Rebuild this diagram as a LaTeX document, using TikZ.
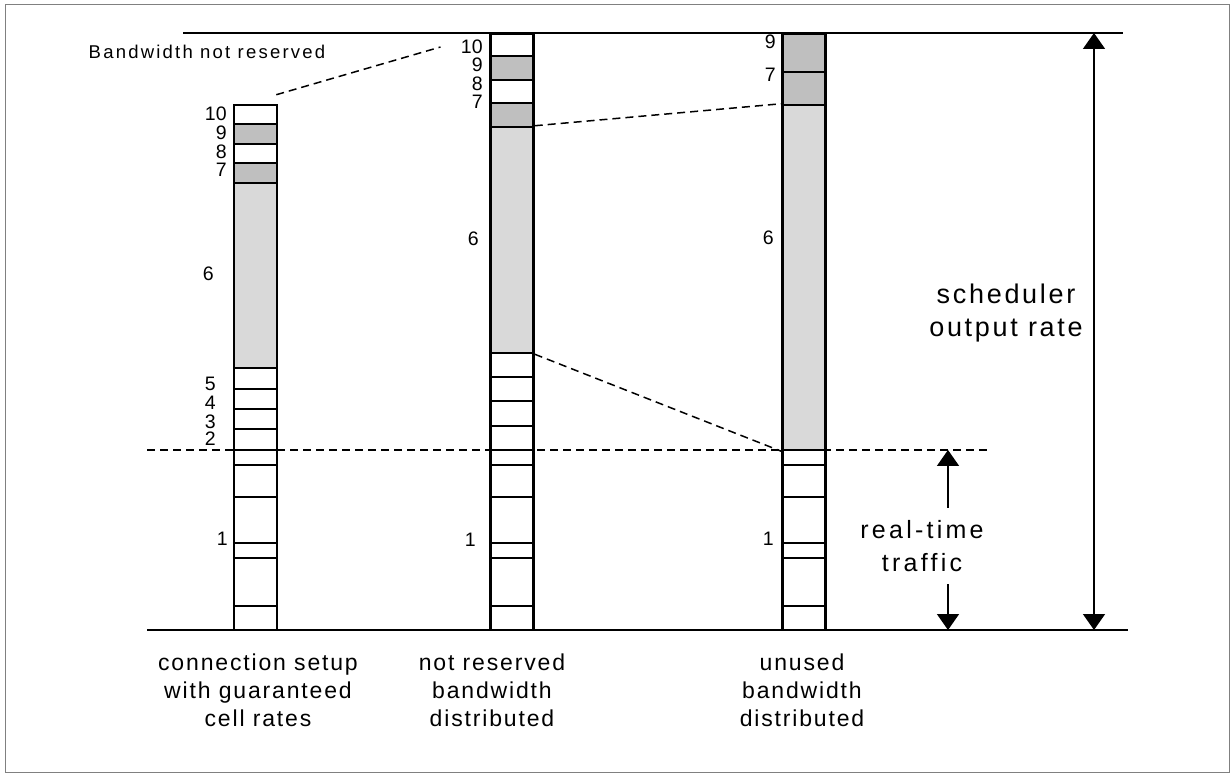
\documentclass[tikz,border=0pt]{standalone}
\usepackage{fontspec}
\setmainfont{Liberation Sans}
\usetikzlibrary{arrows.meta}

\begin{document}
\begin{tikzpicture}[x=0.5pt, y=-0.5pt,
% common options for the column segments:
seg/.style = {draw, line width=1.25pt, minimum width=21.5pt, inner sep=0, fill=white},
% common options for the numbers:
num/.style = {font=\fontsize{9.75}{9.75}\selectfont, inner sep=0, anchor=east},
% common options for the captions below the columns:
colcaption/.style = {align=center, inner sep=0,
            font=\fontsize{11.5}{14}\selectfont\addfontfeatures{LetterSpace=8}},
conn/.style = {dash pattern=on 4pt off 2.5pt, line width=0.75pt},
rate/.style = {line width=0.8pt, >={Triangle[length=8pt,width=11pt]}}]
\useasboundingbox (0,0) rectangle (1231,774);
\draw[gray, line width=0.5pt] (5,5) rectangle (1229,772);
% base lines
\draw[line width=1pt] (183,33) -- (1123,33);
\draw[line width=1pt] (147,630) -- (1128,630);
\draw[conn] (147,450) -- (987,450);
% first column
\node[seg, minimum height=9.5pt] (A10) at (255.5,114.5) {};
\node[seg, minimum height=10pt, fill=gray!50] (A9) at (255.5,134) {};
\node[seg, minimum height=9.5pt] (A8) at (255.5,153.5) {};
\node[seg, minimum height=10pt, fill=gray!50] (A7) at (255.5,173) {};
\node[seg, minimum height=92.5pt, fill=gray!30] (A6) at (255.5,275.5) {};
\node[seg, minimum height=10.5pt] (A5) at (255.5,378.5) {};
\node[seg, minimum height=10pt] (A4) at (255.5,399) {};
\node[seg, minimum height=10pt] (A3) at (255.5,419) {};
\node[seg, minimum height=10.5pt] (A2) at (255.5,439.5) {};
\node[seg, minimum height=90pt] (A1) at (255.5,540) {};
% second column
\node[seg, minimum height=11pt] (B10) at (512,45) {};
\node[seg, minimum height=12pt, fill=gray!50] (B9) at (512,68) {};
\node[seg, minimum height=11.5pt] (B8) at (512,91.5) {};
\node[seg, minimum height=12pt, fill=gray!50] (B7) at (512,115) {};
\node[seg, minimum height=113pt, fill=gray!30] (B6) at (512,240) {};
\node[seg, minimum height=12pt] (B5) at (512,365) {};
\node[seg, minimum height=12pt] (B4) at (512,389) {};
\node[seg, minimum height=12.5pt] (B3) at (512,413.5) {};
\node[seg, minimum height=12pt] (B2) at (512,438) {};
\node[seg, minimum height=90pt] (B1) at (512,540) {};
% third column
\node[seg, minimum height=19pt, fill=gray!50] (C9) at (804,53) {};
\node[seg, minimum height=16.5pt, fill=gray!50] (C7) at (804,88.5) {};
\node[seg, minimum height=172.5pt, fill=gray!30] (C6) at (804,277.5) {};
\node[seg, minimum height=90pt] (C1) at (804,540) {};
% real-time connections
\foreach \col in {A1,B1,C1}
  \foreach \y in {465,497,543,558,606}
    \draw[line width=0.8pt] (\col.west |- 0,\y) -- (\col.east |- 0,\y);
% numbers
\node[num] (lA10) at (227,114) {10};
\node[num] (lA9) at (227,132.5) {9};
\node[num] (lA8) at (227,152) {8};
\node[num] (lA7) at (227,169.5) {7};
\node[num] (lA6) at (214,273.5) {6};
\node[num] (lA5) at (216,384) {5};
\node[num] (lA4) at (216,402.5) {4};
\node[num] (lA3) at (216,421.5) {3};
\node[num] (lA2) at (216,439) {2};
\node[num] (lA1) at (228,538.5) {1};
\node[num] (lB10) at (483,47) {10};
\node[num] (lB9) at (483,64.5) {9};
\node[num] (lB8) at (483,83.5) {8};
\node[num] (lB7) at (483,101.5) {7};
\node[num] (lB6) at (479,238.5) {6};
\node[num] (lB1) at (476,540) {1};
\node[num] (lC9) at (776,41.5) {9};
\node[num] (lC7) at (776,75) {7};
\node[num] (lC6) at (774,238) {6};
\node[num] (lC1) at (774,539) {1};
% texts
\node[inner sep=0, font=\fontsize{9.25}{9.25}\selectfont\addfontfeatures{LetterSpace=12}] (bnr) at (207,52) {Bandwidth not reserved};
\node[colcaption] (capA) at (258,690) {connection setup\\with guaranteed\\cell rates};
\node[colcaption] (capB) at (492,690) {not reserved\\bandwidth\\distributed};
\node[colcaption] (capC) at (802,690) {unused\\bandwidth\\distributed};
\node[align=center, inner sep=0, font=\fontsize{13.5}{16.5}\selectfont\addfontfeatures{LetterSpace=10}] (sor) at (1006,313) {scheduler\\output rate};
\node[align=center, inner sep=6pt, font=\fontsize{12.5}{16.5}\selectfont\addfontfeatures{LetterSpace=13}] (rt) at (922,546) {real-time\\traffic};
% connectors
\draw[conn] ([shift={(-2,-9)}]A10.north east) -- ([shift={(-20,0)}]lB10.west);
\draw[conn] (B6.north east) -- (C6.north west);
\draw[conn] (B6.south east) -- (C6.south west);
\coordinate (srt) at (1094,33);
\coordinate (srb) at (1094,630);
\coordinate (rtt) at (948,450);
\coordinate (rtb) at (948,630);
\draw[rate, <->] (srb) -- (srt);
\draw[rate, ->] (rt.north -| rtt) -- (rtt);
\draw[rate, ->] (rt.south -| rtb) -- (rtb);
\end{tikzpicture}
\end{document}
